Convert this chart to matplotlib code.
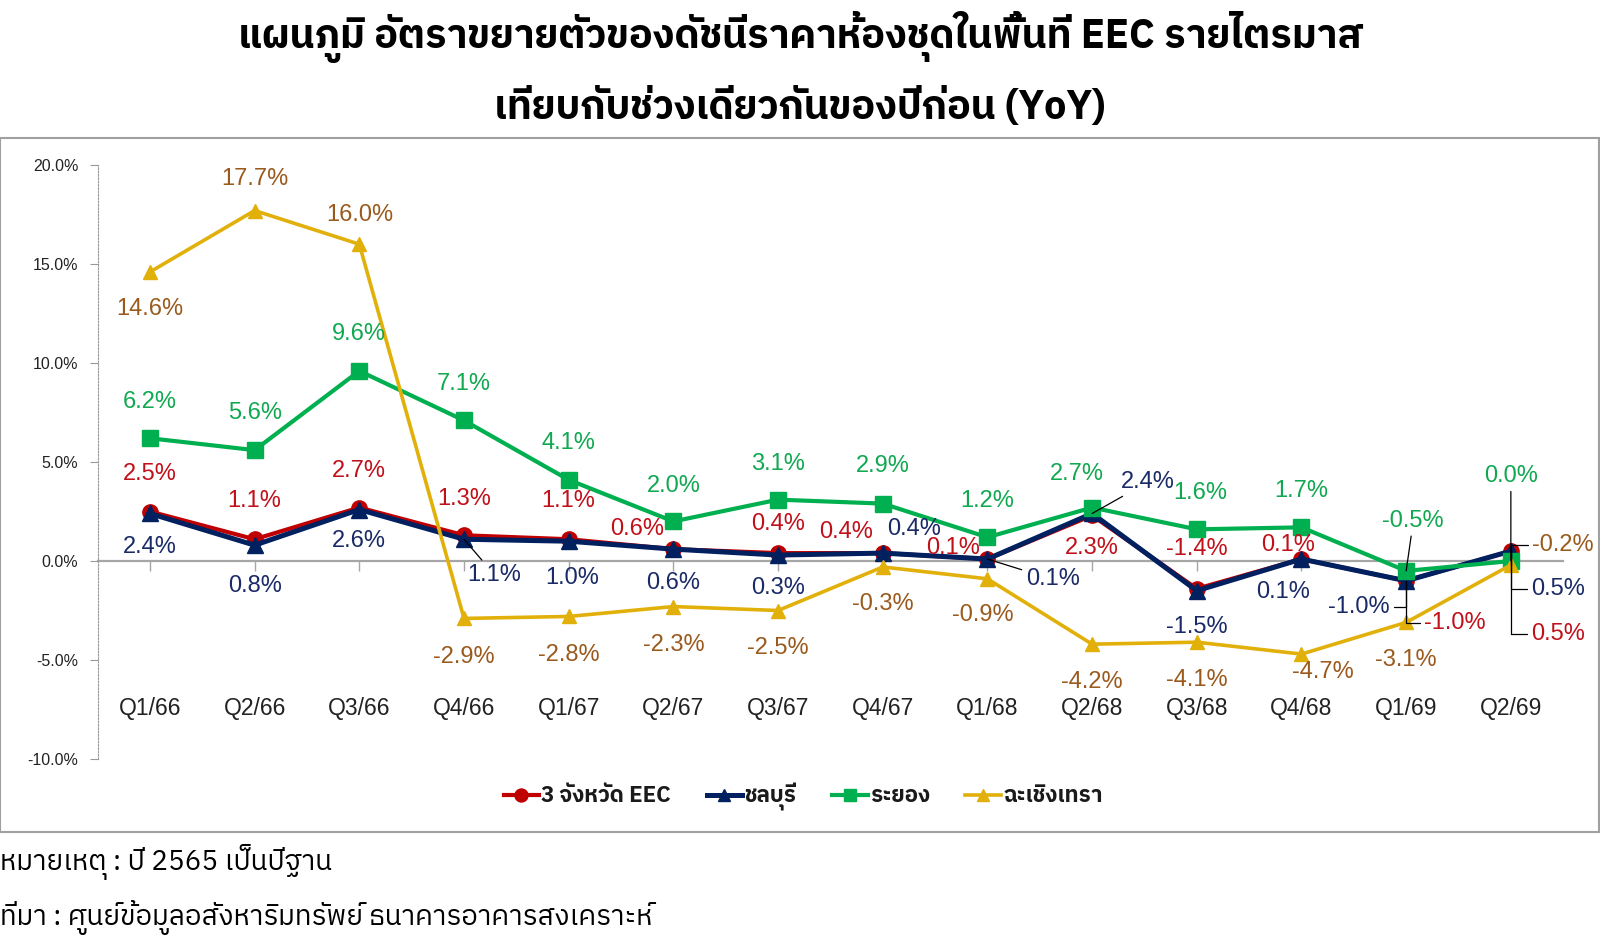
import matplotlib
matplotlib.use("Agg")
import matplotlib.pyplot as plt
from matplotlib import font_manager
from matplotlib.ft2font import FT2Font
from matplotlib.patches import Rectangle
from matplotlib.lines import Line2D

# data
quarters = ["Q1/66", "Q2/66", "Q3/66", "Q4/66", "Q1/67", "Q2/67", "Q3/67",
            "Q4/67", "Q1/68", "Q2/68", "Q3/68", "Q4/68", "Q1/69", "Q2/69"]
eec = [2.5, 1.1, 2.7, 1.3, 1.1, 0.6, 0.4, 0.4, 0.1, 2.3, -1.4, 0.1, -1.0, 0.5]
chonburi = [2.4, 0.8, 2.6, 1.1, 1.0, 0.6, 0.3, 0.4, 0.1, 2.4, -1.5, 0.1, -1.0, 0.5]
rayong = [6.2, 5.6, 9.6, 7.1, 4.1, 2.0, 3.1, 2.9, 1.2, 2.7, 1.6, 1.7, -0.5, 0.0]
chachoengsao = [14.6, 17.7, 16.0, -2.9, -2.8, -2.3, -2.5, -0.3, -0.9, -4.2, -4.1, -4.7, -3.1, -0.2]

names = ["3 จังหวัด EEC", "ชลบุรี", "ระยอง", "ฉะเชิงเทรา"]
title = "แผนภูมิ อัตราขยายตัวของดัชนีราคาห้องชุดในพื้นที่ EEC รายไตรมาส\nเทียบกับช่วงเดียวกันของปีก่อน (YoY)"
note1 = "หมายเหตุ : ปี 2565 เป็นปีฐาน"
note2 = "ที่มา : ศูนย์ข้อมูลอสังหาริมทรัพย์ ธนาคารอาคารสงเคราะห์"


def find_thai_font():
    found = []
    for f in font_manager.fontManager.ttflist:
        try:
            cmap = FT2Font(f.fname).get_charmap()
        except Exception:
            continue
        if 0x0E01 in cmap and 0x0E34 in cmap:
            found.append(f.name)
    for n in found:
        if "Thai" in n:
            return n
    return found[0] if found else "DejaVu Sans"


thai = find_thai_font()
fam = ["Liberation Sans", thai, "DejaVu Sans"]
thai_fam = [thai, "Liberation Sans", "DejaVu Sans"]
plt.rcParams["font.family"] = fam

# label offsets in pixels (dx, dy up) and leader line style per point
off_e = [(0, 37), (0, 37), (0, 36), (0, 36), (0, 37), (-36, 20), (0, 29),
         (-36, 21), (-34, 11), (0, -32), (0, 39), (-13, 14), (48, -41), (46, -81)]
off_c = [(0, -33), (0, -40), (0, -31), (30, -35), (3, -36), (0, -33), (0, -32),
         (31, 24), (64, -20), (55, 31), (0, -36), (-18, -32), (-46, -26), (46, -37)]
off_r = [(0, 36), (0, 36), (0, 36), (0, 36), (0, 36), (0, 35), (0, 35),
         (0, 37), (0, 36), (-15, 33), (3, 36), (0, 36), (7, 49), (0, 83)]
off_g = [(0, -36), (0, 31), (0, 29), (0, -38), (0, -38), (0, -38), (0, -37),
         (0, -36), (-5, -35), (0, -37), (0, -37), (21, -18), (0, -37), (51, 20)]

ang = "angle,angleA=0,angleB=90,rad=0"
lead_e = {12: ang, 13: ang}
lead_c = {3: "arc3", 8: "arc3", 9: "arc3", 12: ang, 13: ang}
lead_r = {12: "arc3", 13: "arc3"}
lead_g = {13: ang}

series = [
    (eec, "#C00000", "o", 11, 3.0, "#C0101A", off_e, lead_e),
    (chonburi, "#002060", "^", 11, 3.6, "#1A2A66", off_c, lead_c),
    (rayong, "#00B050", "s", 11, 3.0, "#10A850", off_r, lead_r),
    (chachoengsao, "#E2B00A", "^", 10, 2.6, "#9A5A1E", off_g, lead_g),
]

fig = plt.figure(figsize=(16, 9.49), dpi=100)
ax = fig.add_axes([0.061, 0.2002, 0.916, 0.6259])

x = list(range(len(quarters)))
handles = []
for (vals, col, mk, ms, lw, lcol, offs, leads), name in zip(series, names):
    ax.plot(x, vals, color=col, marker=mk, markersize=ms, linewidth=lw,
            markeredgecolor=col, clip_on=False)
    handles.append(Line2D([], [], color=col, marker=mk, markersize=ms * 0.85,
                          linewidth=lw))
    for i, v in enumerate(vals):
        dx, dy = offs[i]
        props = None
        if i in leads:
            props = dict(arrowstyle="-", color="black", lw=0.9,
                         connectionstyle=leads[i], shrinkA=1, shrinkB=0)
        ax.annotate(f"{v:.1f}%", xy=(i, v), xytext=(dx * 1.02, dy * 1.02),
                    textcoords="offset pixels", ha="center", va="center",
                    color=lcol, fontsize=17, arrowprops=props, zorder=5)

ax.set_xlim(-0.5, len(quarters) - 0.5)
ax.set_ylim(-10, 20)
ax.set_yticks([-10, -5, 0, 5, 10, 15, 20])
ax.set_yticklabels([f"{t:.1f}%" for t in [-10, -5, 0, 5, 10, 15, 20]],
                   fontsize=11.5, color="#222222")
ax.tick_params(axis="y", length=6, width=0.8, color="#999999", pad=8)

for s in ["top", "right"]:
    ax.spines[s].set_visible(False)
ax.spines["left"].set_linestyle((0, (1.5, 1.5)))
ax.spines["left"].set_color("#999999")
ax.spines["bottom"].set_position(("data", 0))
ax.spines["bottom"].set_color("#A6A6A6")
ax.spines["bottom"].set_linewidth(1.6)
ax.spines["bottom"].set_zorder(0.5)
ax.set_xticks(x)
ax.set_xticklabels([])
ax.tick_params(axis="x", length=7, width=1, color="#A6A6A6", direction="out")
for i, q in enumerate(quarters):
    ax.text(i, -7.45, q, ha="center", va="center", fontsize=16.5, color="#222222")

leg = fig.legend(handles, names, loc="center", bbox_to_anchor=(0.502, 1 - 797 / 949),
                 ncol=4, frameon=False, handlelength=1.6, handletextpad=0.1,
                 columnspacing=1.6, prop=dict(family=thai_fam, size=16, weight="bold"))
for t in leg.get_texts():
    t.set_color("#1A1A1A")

# outer chart box
fig.patches.append(Rectangle((0.0, 1 - 832 / 949), 0.9995, (832 - 138) / 949,
                             transform=fig.transFigure, fill=False,
                             edgecolor="#A0A0A0", linewidth=1.5))

fig.text(0.5, 1 - 69 / 949, title, ha="center", va="center", fontsize=28.5,
         fontweight="bold", family=thai_fam, linespacing=1.75)
fig.text(0.0, 1 - 862 / 949, note1, ha="left", va="center", fontsize=20,
         family=thai_fam)
fig.text(0.0, 1 - 918 / 949, note2, ha="left", va="center", fontsize=20,
         family=thai_fam)

fig.savefig("out.png", dpi=100)
